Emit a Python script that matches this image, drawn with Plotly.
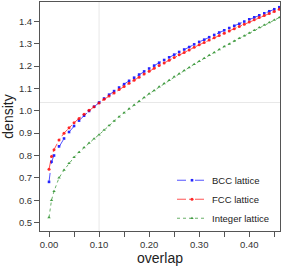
import plotly.graph_objects as go

# ---- data ----
overlap = [0.0, 0.005, 0.01, 0.02, 0.03, 0.04, 0.05, 0.06, 0.07, 0.08, 0.09,
           0.10, 0.11, 0.12, 0.13, 0.14, 0.15, 0.16, 0.17, 0.18, 0.19,
           0.20, 0.21, 0.22, 0.23, 0.24, 0.25, 0.26, 0.27, 0.28, 0.29,
           0.30, 0.31, 0.32, 0.33, 0.34, 0.35, 0.36, 0.37, 0.38, 0.39,
           0.40, 0.41, 0.42, 0.43, 0.44, 0.45, 0.46]

bcc = [0.682, 0.772, 0.800, 0.841, 0.876, 0.905, 0.932, 0.956, 0.978, 0.999, 1.018,
       1.037, 1.055, 1.072, 1.088, 1.104, 1.119, 1.134, 1.148, 1.162, 1.176,
       1.189, 1.202, 1.215, 1.227, 1.239, 1.251, 1.263, 1.274, 1.285, 1.297,
       1.308, 1.318, 1.329, 1.339, 1.350, 1.360, 1.370, 1.380, 1.389, 1.399,
       1.409, 1.418, 1.427, 1.436, 1.445, 1.454, 1.463]

fcc = [0.738, 0.795, 0.826, 0.869, 0.900, 0.924, 0.946, 0.966, 0.984, 1.002, 1.018,
       1.035, 1.051, 1.066, 1.080, 1.095, 1.109, 1.123, 1.137, 1.150, 1.164,
       1.177, 1.190, 1.202, 1.214, 1.226, 1.238, 1.250, 1.261, 1.272, 1.284,
       1.295, 1.305, 1.316, 1.326, 1.337, 1.347, 1.357, 1.367, 1.377, 1.387,
       1.397, 1.407, 1.417, 1.426, 1.435, 1.444, 1.454]

integer = [0.523, 0.600, 0.640, 0.700, 0.735, 0.765, 0.792, 0.815, 0.836, 0.856, 0.875,
           0.893, 0.914, 0.934, 0.954, 0.973, 0.991, 1.009, 1.026, 1.043, 1.059,
           1.076, 1.091, 1.107, 1.122, 1.137, 1.152, 1.166, 1.180, 1.194, 1.208,
           1.222, 1.235, 1.248, 1.261, 1.274, 1.287, 1.299, 1.312, 1.324, 1.336,
           1.348, 1.360, 1.372, 1.383, 1.395, 1.406, 1.417]

series_names = ["BCC lattice", "FCC lattice", "Integer lattice"]

x_tickvals = [0.0, 0.05, 0.10, 0.15, 0.20, 0.25, 0.30, 0.35, 0.40, 0.45]
x_ticktext = ["0.00", "", "0.10", "", "0.20", "", "0.30", "", "0.40", ""]
y_tickvals = [0.5, 0.6, 0.7, 0.8, 0.9, 1.0, 1.1, 1.2, 1.3, 1.4]
y_ticktext = ["0.5", "0.6", "0.7", "0.8", "0.9", "1.0", "1.1", "1.2", "1.3", "1.4"]

ref_x = 0.10
ref_y = 1.037

# ---- figure ----
FONT = "Liberation Sans, Arial, sans-serif"
fig = go.Figure()

fig.add_vline(x=ref_x, line=dict(color="#e8e8e8", width=1), layer="below")
fig.add_hline(y=ref_y, line=dict(color="#e8e8e8", width=1), layer="below")

styles = [
    dict(color="#0000ff", dash="dash", symbol="square", size=2.6),
    dict(color="#ff0000", dash="dashdot", symbol="circle", size=3),
    dict(color="#228b22", dash="dot", symbol="triangle-up", size=3),
]
for name, ys, st in zip(series_names, [bcc, fcc, integer], styles):
    fig.add_trace(go.Scatter(
        x=overlap, y=ys, name=name, mode="lines+markers",
        line=dict(color=st["color"], width=0.8, dash=st["dash"]),
        marker=dict(color=st["color"], symbol=st["symbol"], size=st["size"]),
        opacity=0.85,
    ))

axis_common = dict(
    showline=True, mirror=True, linecolor="#555555", linewidth=1,
    ticks="outside", ticklen=5, tickcolor="#555555", tickwidth=1,
    showgrid=False, zeroline=False,
    tickfont=dict(family=FONT, size=9.5, color="#333333"),
)

fig.update_xaxes(
    range=[-0.018, 0.4614], tickmode="array",
    tickvals=x_tickvals, ticktext=x_ticktext,
    title=dict(text="overlap", font=dict(family=FONT, size=14, color="#222222"), standoff=2),
    **axis_common,
)
fig.update_yaxes(
    range=[0.4624, 1.4864], tickmode="array",
    tickvals=y_tickvals, ticktext=y_ticktext,
    title=dict(text="density", font=dict(family=FONT, size=14, color="#222222"), standoff=4),
    **axis_common,
)

fig.update_layout(
    width=284, height=267,
    margin=dict(l=40, r=4, t=2, b=36, autoexpand=False),
    paper_bgcolor="white", plot_bgcolor="white",
    font=dict(family=FONT, size=9.5, color="#222222"),
    showlegend=True,
    legend=dict(
        x=0.55, y=0.285, xanchor="left", yanchor="top",
        bgcolor="rgba(0,0,0,0)", borderwidth=0,
        font=dict(family=FONT, size=9.5, color="#222222"),
        itemwidth=30, tracegroupgap=0,
    ),
)

fig.write_html("out.html",
               config={"displayModeBar": False},
               post_script="document.body.style.margin='0';document.body.style.overflow='hidden';")
